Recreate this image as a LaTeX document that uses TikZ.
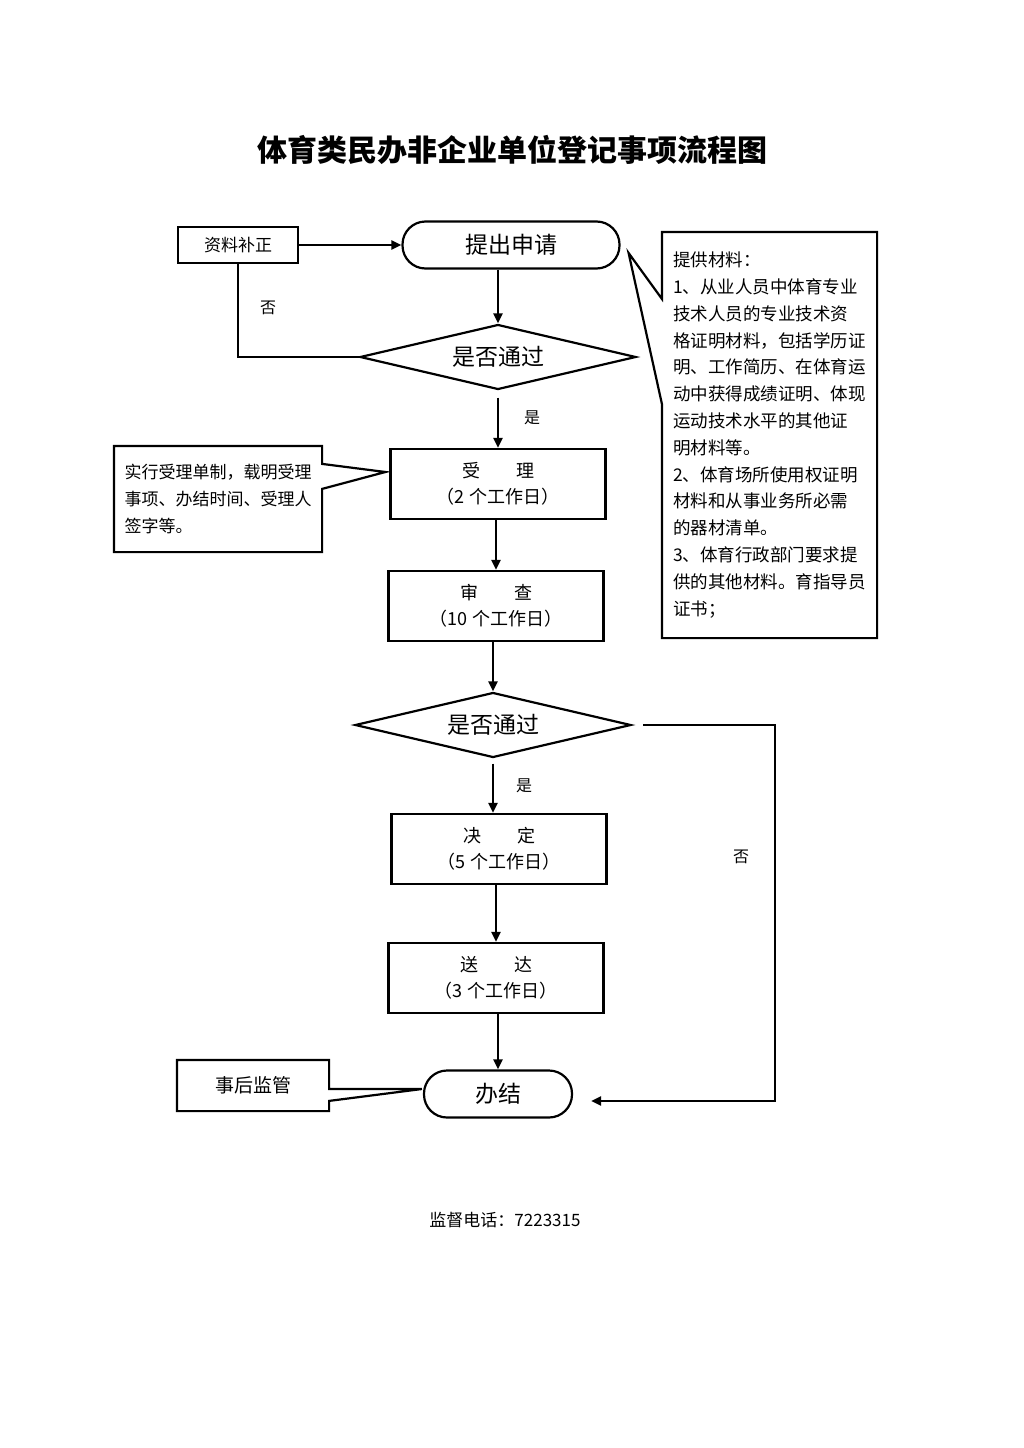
\documentclass[tikz,border=0pt]{standalone}
\usepackage{fontspec}
\setmainfont{Noto Sans CJK SC}
\usetikzlibrary{shapes.geometric,arrows.meta,calc}

\begin{document}
\begin{tikzpicture}[x=1pt,y=-1pt,line width=2.2pt,
    smallbox/.style={draw, minimum width=120pt, minimum height=36pt, inner sep=0pt, font=\fontsize{17}{17}\selectfont},
    stepbox/.style={draw, minimum width=215pt, minimum height=70pt, inner sep=0pt, align=center, font=\fontsize{18}{26}\selectfont},
    term/.style={draw, rounded corners=23pt, minimum height=47pt, inner sep=0pt, font=\fontsize{23}{23}\selectfont},
    check/.style={draw, diamond, aspect=4.25, minimum width=276pt, minimum height=65pt, inner sep=0pt, font=\fontsize{23}{23}\selectfont},
    note/.style={minimum width=206pt, minimum height=104pt, inner sep=0pt, align=left, font=\fontsize{17}{27}\selectfont},
    lbl/.style={font=\fontsize{16}{16}\selectfont},
    arr/.style={-{Triangle[length=10pt,width=9pt]}},
]

\useasboundingbox (0,0) rectangle (1024,1448);

\node [font=\fontsize{30}{30}\selectfont\bfseries] (title) at (512,150) {体育类民办非企业单位登记事项流程图};

% main column
\node [smallbox] (fix) at (238,245) {资料补正};
\node [term, minimum width=217pt] (apply) at (511,245) {提出申请};
\node [check] (check1) at (498,357) {是否通过};
\node [stepbox] (accept) at (498,484) {受　　理\\（2 个工作日）};
\node [stepbox] (review) at (496,606) {审　　查\\（10 个工作日）};
\node [check] (check2) at (493,725) {是否通过};
\node [stepbox] (decide) at (499,849) {决　　定\\（5 个工作日）};
\node [stepbox] (deliver) at (496,978) {送　　达\\（3 个工作日）};
\node [term, minimum width=148pt] (done) at (498,1094) {办结};

% notes
\node [note] (noteL) at (218,499) {实行受理单制，载明受理\\事项、办结时间、受理人\\签字等。};
\draw (noteL.north west) -- (noteL.north east) -- ([shift={(0,18)}]noteL.north east)
  -- ([shift={(-4,-12)}]accept.west) -- ([shift={(0,43)}]noteL.north east)
  -- (noteL.south east) -- (noteL.south west) -- cycle;

\node [note, minimum width=213pt, minimum height=404pt, font=\fontsize{17.5}{26.8}\selectfont] (noteR) at (769.5,435)
  {提供材料：\\1、从业人员中体育专业\\技术人员的专业技术资\\格证明材料，包括学历证\\明、工作简历、在体育运\\动中获得成绩证明、体现\\运动技术水平的其他证\\明材料等。\\2、体育场所使用权证明\\材料和从事业务所必需\\的器材清单。\\3、体育行政部门要求提\\供的其他材料。育指导员\\证书；};
\coordinate (tipR) at ([shift={(8,8)}]apply.east);
\draw (noteR.north west) -- ([shift={(0,67)}]noteR.north west) -- (tipR)
  -- ([shift={(0,172)}]noteR.north west) -- (noteR.south west)
  -- (noteR.south east) -- (noteR.north east) -- cycle;

\node [minimum width=150pt, minimum height=49pt, inner sep=0pt, font=\fontsize{19}{19}\selectfont] (noteB) at (253,1085.5) {事后监管};
\draw (noteB.north west) -- (noteB.north east) -- ([shift={(0,29)}]noteB.north east)
  -- ([shift={(-1,-5)}]done.west) -- ([shift={(0,41)}]noteB.north east)
  -- (noteB.south east) -- (noteB.south west) -- cycle;

% connectors
\draw [arr] (fix) -- (apply);
\draw (fix.south) |- (check1.west);
\draw [arr] (apply.south -| check1.north) -- (check1.north);
\draw [arr] ([shift={(0,7)}]check1.south) -- (accept.north -| check1.south);
\draw [arr] (accept.south -| review.north) -- (review.north);
\draw [arr] (review.south -| check2.north) -- (check2.north);
\draw [arr] ([shift={(0,5)}]check2.south) -- (decide.north -| check2.south);
\draw [arr] (decide.south -| deliver.north) -- (deliver.north);
\draw [arr] (deliver.south -| done.north) -- (done.north);
\coordinate (turn) at (775,1101);
\draw [arr] ([shift={(11,0)}]check2.east) -| (turn) -- ($(done.east)+(18,7)$);

\node [lbl] (no1) at (268,308) {否};
\node [lbl] (yes1) at (532,418) {是};
\node [lbl] (yes2) at (524,786) {是};
\node [lbl] (no2) at (741,857) {否};

\node [font=\fontsize{17}{17}\selectfont] (phone) at (505,1220) {监督电话：7223315};

\end{tikzpicture}
\end{document}
